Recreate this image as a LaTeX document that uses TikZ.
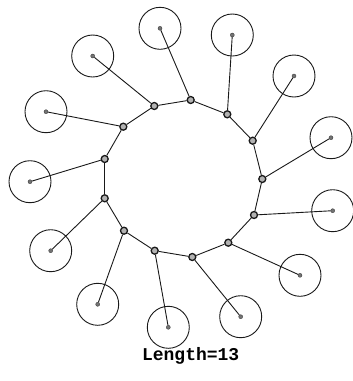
\documentclass[tikz,border=0pt]{standalone}
\usepackage{fontspec}
\newfontfamily\capfont{Liberation Mono}
\usetikzlibrary{positioning}

\begin{document}
\begin{tikzpicture}[
  x=1pt, y=-1pt,
  ring/.style={circle,draw=black!90,line width=1.3pt,fill=black!30,inner sep=0pt,minimum size=7pt},
  site/.style={circle,draw=black!90,line width=0.9pt,inner sep=0pt,minimum size=42pt},
  hub/.style={circle,fill=black!55,draw=black!75,line width=0.4pt,inner sep=0pt,minimum size=4pt},
  link/.style={draw=black!90,line width=0.9pt},
  caption/.style={font=\capfont\bfseries\fontsize{18}{20}\selectfont}
]
\useasboundingbox (0,0) rectangle (353,381);

% ---- ring of 13 ----
\foreach \i/\x/\y in {1/190.7/100, 2/227.3/114.3, 3/252.7/140.7, 4/262.3/179,
                      5/254/215, 6/228.3/242.7, 7/192.3/257, 8/154.7/250.7,
                      9/124/230.7, 10/104.7/198.3, 11/104.7/159, 12/123.3/126.7,
                      13/154.3/106}
  \node[ring] (r\i) at (\x,\y) {};

% ---- outer sites ----
\foreach \i/\x/\y in {1/160/28.3, 2/232.3/35, 3/294/76, 4/331/137.7,
                      5/332.7/210.7, 6/300/275.3, 7/240.7/316.7, 8/168.3/327.3,
                      9/97.7/304.3, 10/50.7/250.7, 11/30/181.7, 12/46/111.7,
                      13/92.7/56}
{
  \node[site] (s\i) at (\x,\y) {};
  \node[hub]  (h\i) at (s\i.center) {};
}

% ---- ring edges ----
\foreach \i/\j in {1/2,2/3,3/4,4/5,5/6,6/7,7/8,8/9,9/10,10/11,11/12,12/13,13/1}
  \draw[link] (r\i) -- (r\j);

% ---- spokes ----
\foreach \i in {1,...,13}
  \draw[link] (r\i) -- (h\i);

% ---- caption ----
\node[caption] (len) at (190.7,356) {Length=13};

\end{tikzpicture}
\end{document}
